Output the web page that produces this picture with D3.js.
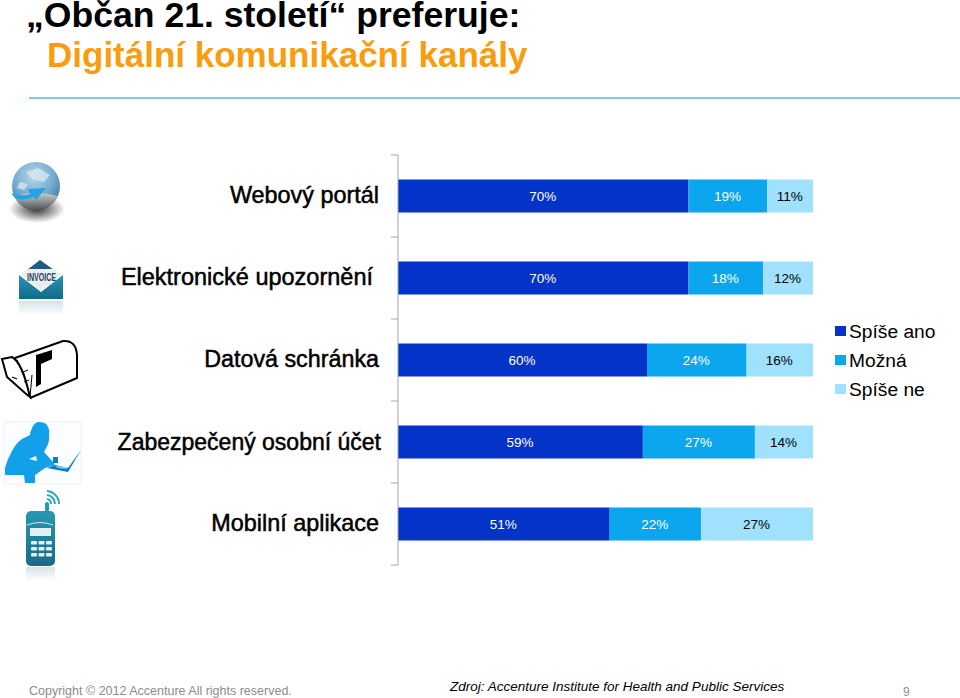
<!DOCTYPE html>
<html><head><meta charset="utf-8">
<script src="https://cdn.jsdelivr.net/npm/d3@7"></script>
<style>html,body{margin:0;padding:0;background:#fff}svg{display:block}text{font-family:"Liberation Sans",Arial,sans-serif}</style>
</head><body><svg id="c" width="960" height="698"></svg>
<script>
const categories=["Webový portál","Elektronické upozornění","Datová schránka","Zabezpečený osobní účet","Mobilní aplikace"];
const seriesNames=["Spíše ano","Možná","Spíše ne"];
const spiseAno=[70,70,60,59,51];
const mozna=[19,18,24,27,22];
const spiseNe=[11,12,16,14,27];
const colors=["#0433c9","#0ba6ee","#a0e2fd"];
const labelColors=["#fff","#fff","#000"];
const svg=d3.select("#c");
const t=(x,y,s,size,opt={})=>svg.append("text").attr("x",x).attr("y",y).text(s).attr("font-size",size)
 .attr("font-weight",opt.w||"normal").attr("fill",opt.c||"#000").attr("text-anchor",opt.a||"start").attr("font-style",opt.i||"normal");
t(26,27,"„Občan 21. století“ preferuje:",35.6,{w:"bold"});
t(47,67,"Digitální komunikační kanály",35,{w:"bold",c:"#f99d10"});
svg.append("line").attr("x1",29).attr("x2",960).attr("y1",98).attr("y2",98).attr("stroke","#4cc1e6").attr("stroke-width",1.5);

const x=d3.scaleLinear().domain([0,100]).range([398,813]);
const y=d3.scaleBand().domain(categories).range([155,565]);
const stack=d3.stack().keys([0,1,2]).value((d,k)=>d[k]);
const rows=categories.map((c,i)=>[spiseAno[i],mozna[i],spiseNe[i]]);
const layers=stack(rows);
const barH=33;
layers.forEach((l,k)=>{
 const g=svg.append("g");
 l.forEach((d,i)=>{
  const yc=y(categories[i])+y.bandwidth()/2;
  g.append("rect").attr("x",x(d[0])).attr("width",x(d[1])-x(d[0])).attr("y",yc-barH/2).attr("height",barH).attr("fill",colors[k]);
  g.append("text").attr("x",(x(d[0])+x(d[1]))/2-0.5).attr("y",yc+5).attr("text-anchor","middle").attr("font-size",13.5).attr("fill",labelColors[k]).text(rows[i][k]+"%");
 });
});
// category axis
const axis=svg.append("g").attr("stroke","#a6a6a6").attr("fill","none");
axis.append("line").attr("x1",398).attr("x2",398).attr("y1",155).attr("y2",565);
d3.range(categories.length+1).forEach(i=>{
 const yy=i<categories.length?y(categories[i]):y.range()[1];
 axis.append("line").attr("x1",391).attr("x2",398).attr("y1",yy).attr("y2",yy);
});
const labelRight=[379,373,379,381,379];
const labelDy=[7,7,7,8,7];
const labelSize=[23.4,23.5,23.3,23,23.4];
categories.forEach((c,i)=>{
 t(labelRight[i],y(c)+y.bandwidth()/2+labelDy[i],c,labelSize[i],{a:"end"}).attr("stroke","#000").attr("stroke-width",0.5);
});
// legend
seriesNames.forEach((s,i)=>{
 const yy=331+i*29;
 svg.append("rect").attr("x",835).attr("y",yy-5).attr("width",11).attr("height",10).attr("fill",colors[i]);
 t(849,yy+6.5,s,19.2);
});
// footer
t(29,695,"Copyright © 2012 Accenture  All rights reserved.",12.5,{c:"#8c8c8c"});
t(450,691,"Zdroj: Accenture Institute for Health and Public Services",13.5,{i:"italic"});
t(903,696,"9",12,{c:"#8c8c8c"});

// icons
const defs=svg.append("defs");
const rg=defs.append("radialGradient").attr("id","gl").attr("cx","45%").attr("cy","30%").attr("r","75%");
rg.append("stop").attr("offset","0").attr("stop-color","#b9d7e8");
rg.append("stop").attr("offset",".6").attr("stop-color","#6fa8cd");
rg.append("stop").attr("offset","1").attr("stop-color","#3a6a8a");
const lowG=defs.append("linearGradient").attr("id","low").attr("x1",0).attr("x2",0).attr("y1",0).attr("y2",1);
lowG.append("stop").attr("offset","0").attr("stop-color","#c9ced2");
lowG.append("stop").attr("offset","1").attr("stop-color","#4b4f52");
const sh=defs.append("radialGradient").attr("id","sh");
sh.append("stop").attr("offset","0").attr("stop-color","#333");
sh.append("stop").attr("offset",".5").attr("stop-color","#999");
sh.append("stop").attr("offset","1").attr("stop-color","#fff");
const env2=defs.append("linearGradient").attr("id","env").attr("x1",0).attr("x2",0).attr("y1",0).attr("y2",1);
env2.append("stop").attr("offset","0").attr("stop-color","#2a93b8");
env2.append("stop").attr("offset","1").attr("stop-color","#126a8a");
const ph2=defs.append("linearGradient").attr("id","ph").attr("x1",0).attr("x2",0).attr("y1",0).attr("y2",1);
ph2.append("stop").attr("offset","0").attr("stop-color","#2898b2");
ph2.append("stop").attr("offset","1").attr("stop-color","#176c86");
const refl=defs.append("linearGradient").attr("id","refl").attr("x1",0).attr("x2",0).attr("y1",0).attr("y2",1);
refl.append("stop").attr("offset","0").attr("stop-color","#d8e2e6");
refl.append("stop").attr("offset","1").attr("stop-color","#fff");
// globe
svg.append("ellipse").attr("cx",37).attr("cy",209).attr("rx",28).attr("ry",14).attr("fill","url(#sh)");
svg.append("circle").attr("cx",36).attr("cy",186).attr("r",24).attr("fill","url(#gl)");
svg.append("path").attr("d","M14 196A24 24 0 0 0 58 196Q36 190 14 196Z").attr("fill","url(#low)");
svg.append("path").attr("d","M26 172L38 168L50 175L44 182L32 179ZM20 182L28 184L24 190L17 188Z").attr("fill","#dce9f0").attr("opacity",.75);
svg.append("path").attr("d","M11 193Q22 197 30 194L28 189L46 188L36 200L34 197Q20 202 15 198Z").attr("fill","#27a3e2");
// envelope
const env=svg.append("g");
env.append("rect").attr("x",19).attr("y",301).attr("width",44).attr("height",14).attr("fill","url(#refl)");
env.append("path").attr("d","M27 270L40 260L54 270Z").attr("fill","#1d5c7d");
env.append("path").attr("d","M21 274L28 269H54L62 274L41 291Z").attr("fill","#e9eef1");
env.append("path").attr("d","M19 275L41 292L63 275V299H19Z").attr("fill","url(#env)");
env.append("text").attr("x",41.5).attr("y",281).attr("text-anchor","middle").attr("font-size",10).attr("font-weight","bold").attr("fill","#1b4360").attr("textLength",29).attr("lengthAdjust","spacingAndGlyphs").text("INVOICE");
// mailbox
const mb=svg.append("g").attr("fill","none").attr("stroke","#000").attr("stroke-width",2);
mb.append("path").attr("d","M15 358L63 341Q76 340 77 355V378L30 398");
mb.append("path").attr("d","M2 359L12 357Q22 362 30 397L25 393L7 377Z").attr("fill","#fff");
mb.append("path").attr("d","M36 355L52 350V359L41 364V384L36 387Z").attr("fill","#000").attr("stroke","none");
mb.append("path").attr("d","M12 377L17 379").attr("stroke-width",1.3);
mb.append("path").attr("d","M17 360L24 374L30 397M23 372L28 370M24 382L29 380M30 397L32 375").attr("stroke-width",1);
// person with laptop
const p=svg.append("g");
p.append("rect").attr("x",4).attr("y",422).attr("width",77).attr("height",62).attr("fill","#fcfdfe").attr("stroke","#eef2f4");
p.append("path").attr("d","M38 422Q45 422 47 425Q50 430 49 435Q50 442 46 448L44 452L53 462L55 465L45 468L35 475L35 483L25 483L24 475L5 475L5 468Q7 460 12 451Q16 443 22 439L30 435Q30 432 32 428Q34 423 38 422Z").attr("fill","#12a0e8");
p.append("path").attr("d","M29 459L36 456L37 461Z").attr("fill","#fff");
p.append("path").attr("d","M47 468L55 465L68 468L81 450L68 472Z").attr("fill","#0e7dc4");
p.append("path").attr("d","M55 466L66 467L67 469L58 468Z").attr("fill","#7fd0f3");
p.append("rect").attr("x",53).attr("y",457).attr("width",5).attr("height",6).attr("fill","#0e7dc4");
// phone
const ph=svg.append("g");
ph.append("rect").attr("x",45).attr("y",502).attr("width",4).attr("height",10).attr("rx",2).attr("fill","#2898b2");
ph.append("path").attr("d","M47 499A5 5 0 0 1 51 504M47 495A9 9 0 0 1 55 504M47 491A13 13 0 0 1 59 504").attr("stroke","#2fa5bc").attr("stroke-width",2).attr("fill","none");
ph.append("rect").attr("x",26).attr("y",511).attr("width",29).attr("height",55).attr("rx",5).attr("fill","url(#ph)");
ph.append("path").attr("d","M27 525Q40 520 53 525").attr("stroke","#dcedf1").attr("stroke-width",1).attr("fill","none");
ph.append("rect").attr("x",30).attr("y",528).attr("width",21).attr("height",8).attr("fill","#e3f0f3");
[31,38.5,46].forEach(cx=>[541,547,553].forEach(cy=>ph.append("rect").attr("x",cx).attr("y",cy).attr("width",6).attr("height",3.5).attr("rx",1).attr("fill","#e3f0f3")));
ph.append("rect").attr("x",26).attr("y",567).attr("width",29).attr("height",14).attr("fill","url(#refl)");
</script></body></html>
